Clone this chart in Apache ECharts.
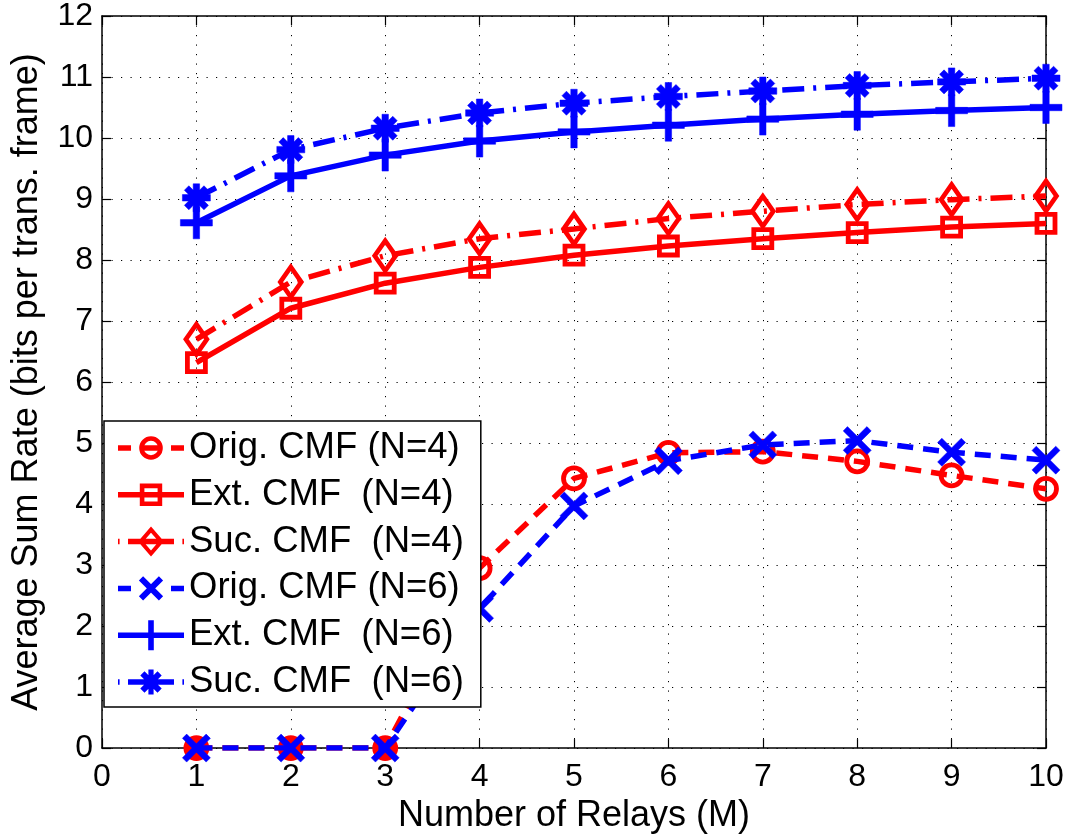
<!DOCTYPE html>
<html><head><meta charset="utf-8">
<script src="https://cdn.jsdelivr.net/npm/echarts@6/dist/echarts.min.js"></script>
<style>html,body{margin:0;padding:0;background:#fff}#c{width:1072px;height:839px}</style>
</head><body><div id="c"></div>
<script>
// ---- data ----
const relays = [1, 2, 3, 4, 5, 6, 7, 8, 9, 10];
const origN4 = [0, 0, 0, 2.95, 4.42, 4.84, 4.86, 4.70, 4.47, 4.25];
const extN4  = [6.32, 7.21, 7.62, 7.88, 8.08, 8.23, 8.35, 8.45, 8.54, 8.60];
const sucN4  = [6.70, 7.64, 8.07, 8.35, 8.51, 8.68, 8.80, 8.91, 8.99, 9.05];
const origN6 = [0, 0, 0, 2.29, 3.97, 4.71, 4.97, 5.04, 4.85, 4.72];
const extN6  = [8.61, 9.38, 9.72, 9.95, 10.10, 10.21, 10.31, 10.39, 10.45, 10.50];
const sucN6  = [9.02, 9.81, 10.16, 10.41, 10.57, 10.68, 10.77, 10.86, 10.92, 10.98];
const seriesNames = ['Orig. CMF (N=4)', 'Ext. CMF  (N=4)', 'Suc. CMF  (N=4)',
                     'Orig. CMF (N=6)', 'Ext. CMF  (N=6)', 'Suc. CMF  (N=6)'];
const xTicks = [0, 10, 1];   // min, max, interval
const yTicks = [0, 12, 1];
const xTitle = 'Number of Relays (M)';
const yTitle = 'Average Sum Rate (bits per trans. frame)';

// ---- styling ----
const RED = '#ff0000', BLUE = '#0000ff';
const FONT = "'Liberation Sans', Arial, Helvetica, sans-serif";
const PLUS = 'path://M-10,-2 L10,-2 L10,2 L-10,2 Z M2,-10 L2,10 L-2,10 L-2,-10 Z';
const CROSS = 'path://M-11.5,-8 L-8,-11.5 L11.5,8 L8,11.5 Z M8,-11.5 L11.5,-8 L-8,11.5 L-11.5,8 Z';
const STAR = 'path://M-10,-2.3 L10,-2.3 L10,2.3 L-10,2.3 Z M2.3,-10 L2.3,10 L-2.3,10 L-2.3,-10 Z ' +
             'M-8.6,-5.4 L-5.4,-8.6 L8.6,5.4 L5.4,8.6 Z M5.4,-8.6 L8.6,-5.4 L-5.4,8.6 L-8.6,5.4 Z';
const DASH = [16, 10];
const DASHDOT = [22, 9, 3, 9];
const LW = 5.5;

// ---- legend icon shapes (line sample + marker), drawn in a 66 x 30 box ----
const IW = 66, IH = 30, CX = 33, CY = 15, HL = LW / 2;
const f = v => +v.toFixed(2);
const box = `M0,0 Z M${IW},${IH} Z `;
const bar = (x0, x1) => `M${f(x0)},${f(CY - HL)} L${f(x1)},${f(CY - HL)} L${f(x1)},${f(CY + HL)} L${f(x0)},${f(CY + HL)} Z `;
const rectCW = (x0, y0, x1, y1) => `M${f(x0)},${f(y0)} L${f(x1)},${f(y0)} L${f(x1)},${f(y1)} L${f(x0)},${f(y1)} Z `;
const rectCCW = (x0, y0, x1, y1) => `M${f(x0)},${f(y0)} L${f(x0)},${f(y1)} L${f(x1)},${f(y1)} L${f(x1)},${f(y0)} Z `;
const circ = (r, sweep) => `M${f(CX - r)},${CY} A${r},${r} 0 1,${sweep} ${f(CX + r)},${CY} A${r},${r} 0 1,${sweep} ${f(CX - r)},${CY} Z `;
const ring = (ro, ri) => circ(ro, 1) + circ(ri, 0);
const sqRing = (ho, hi) => rectCW(CX - ho, CY - ho, CX + ho, CY + ho) + rectCCW(CX - hi, CY - hi, CX + hi, CY + hi);
const diaRing = (a, b, a2, b2) =>
  `M${CX},${f(CY - a)} L${f(CX + b)},${CY} L${CX},${f(CY + a)} L${f(CX - b)},${CY} Z ` +
  `M${CX},${f(CY - a2)} L${f(CX - b2)},${CY} L${CX},${f(CY + a2)} L${f(CX + b2)},${CY} Z `;
const xMark = (s, h) => {
  const p = (x, y) => `${f(CX + x)},${f(CY + y)}`;
  return `M${p(-s - h, -s + h)} L${p(-s + h, -s - h)} L${p(s + h, s - h)} L${p(s - h, s + h)} Z ` +
         `M${p(s - h, -s - h)} L${p(s + h, -s + h)} L${p(-s + h, s + h)} L${p(-s - h, s - h)} Z `;
};
const vBar = (hw, hh) => rectCW(CX - hw, CY - hh, CX + hw, CY + hh);
const hBar = (hw, hh) => rectCW(CX - hw, CY - hh, CX + hw, CY + hh);

const legendIcons = [
  'path://' + box + bar(0, 13) + bar(IW - 13, IW) + bar(CX - 9, CX + 9) + ring(11.8, 7.2),
  'path://' + box + bar(0, IW) + sqRing(11.2, 6.6),
  'path://' + box + bar(0, 1.6) + bar(IW - 1.6, IW) + bar(10, IW - 10) + diaRing(15, 13, 8.9, 7.7),
  'path://' + box + bar(0, 13) + bar(IW - 13, IW) + xMark(10, 2.1),
  'path://' + box + bar(0, IW) + vBar(2.8, 15),
  'path://' + box + bar(0, 1.6) + bar(IW - 1.6, IW) + bar(10, IW - 10) +
      hBar(12.5, 2.6) + vBar(2.6, 12.5) + xMark(8.6, 2.1)
];

const pairs = ys => relays.map((x, i) => [x, ys[i]]);

function hollow(name, ys, color, symbol, size, dash, fillZero) {
  return {
    name, type: 'line', data: pairs(ys).map(p => (fillZero && p[1] === 0)
        ? { value: p, itemStyle: { color: color } } : p),
    symbol, symbolSize: size, showSymbol: true,
    lineStyle: { color, width: LW, type: dash },
    itemStyle: { color: 'rgba(255,255,255,0)', borderColor: color, borderWidth: 4.8 },
    z: 2
  };
}
function solidMark(name, ys, color, symbol, size, dash) {
  return {
    name, type: 'line', data: pairs(ys),
    symbol, symbolSize: size, showSymbol: true,
    lineStyle: { color, width: LW, type: dash },
    itemStyle: { color, borderColor: color, borderWidth: 0.5 },
    z: 3
  };
}

const series = [
  hollow(seriesNames[0], origN4, RED, 'circle', 21, DASH, true),
  hollow(seriesNames[1], extN4, RED, 'rect', 18, 'solid', false),
  hollow(seriesNames[2], sucN4, RED, 'diamond', [21, 30], DASHDOT, false),
  solidMark(seriesNames[3], origN6, BLUE, CROSS, 28, DASH),
  solidMark(seriesNames[4], extN6, BLUE, PLUS, 32, 'solid'),
  solidMark(seriesNames[5], sucN6, BLUE, STAR, 28, DASHDOT)
];

const legendData = series.map((s, i) => ({
  name: s.name,
  icon: legendIcons[i],
  itemStyle: { color: s.lineStyle.color, borderWidth: 0 }
}));

const axisLine = { show: true, onZero: false, lineStyle: { color: '#000', width: 1.5 } };
const tick = { show: true, inside: true, length: 9, lineStyle: { color: '#000', width: 1.2 } };
const grid = { show: true, type: [1.2, 8.3], color: '#000', width: 1 };

const option = {
  animation: false,
  backgroundColor: '#fff',
  grid: { left: 102, right: 26, top: 15, bottom: 88, containLabel: false },
  legend: {
    orient: 'vertical', left: 104, top: 421,
    padding: [7, 17, 5, 14], itemGap: 6.8,
    itemWidth: IW, itemHeight: IH, symbolKeepAspect: true,
    backgroundColor: '#fff', borderColor: '#000', borderWidth: 1.5,
    textStyle: { color: '#000', fontSize: 36.5, fontFamily: FONT, lineHeight: 40 },
    data: legendData
  },
  xAxis: [{
    type: 'value', min: xTicks[0], max: xTicks[1], interval: xTicks[2],
    axisLine, axisTick: tick,
    axisLabel: { color: '#000', fontSize: 32, fontFamily: FONT, margin: 13 },
    splitLine: { lineStyle: grid },
    name: xTitle, nameLocation: 'middle', nameGap: 46,
    nameTextStyle: { color: '#000', fontSize: 36, fontFamily: FONT }
  }, {
    type: 'value', position: 'top', min: xTicks[0], max: xTicks[1], interval: xTicks[2],
    axisLine, axisTick: tick, axisLabel: { show: false }, splitLine: { show: false }
  }],
  yAxis: [{
    type: 'value', min: yTicks[0], max: yTicks[1], interval: yTicks[2],
    axisLine, axisTick: tick,
    axisLabel: { color: '#000', fontSize: 32, fontFamily: FONT, margin: 9 },
    splitLine: { lineStyle: grid },
    name: yTitle, nameLocation: 'middle', nameGap: 57,
    nameTextStyle: { color: '#000', fontSize: 36, fontFamily: FONT }
  }, {
    type: 'value', position: 'right', min: yTicks[0], max: yTicks[1], interval: yTicks[2],
    axisLine, axisTick: tick, axisLabel: { show: false }, splitLine: { show: false }
  }],
  series
};

const chart = echarts.init(document.getElementById('c'), null, { renderer: 'canvas' });
chart.setOption(option);
</script></body></html>
